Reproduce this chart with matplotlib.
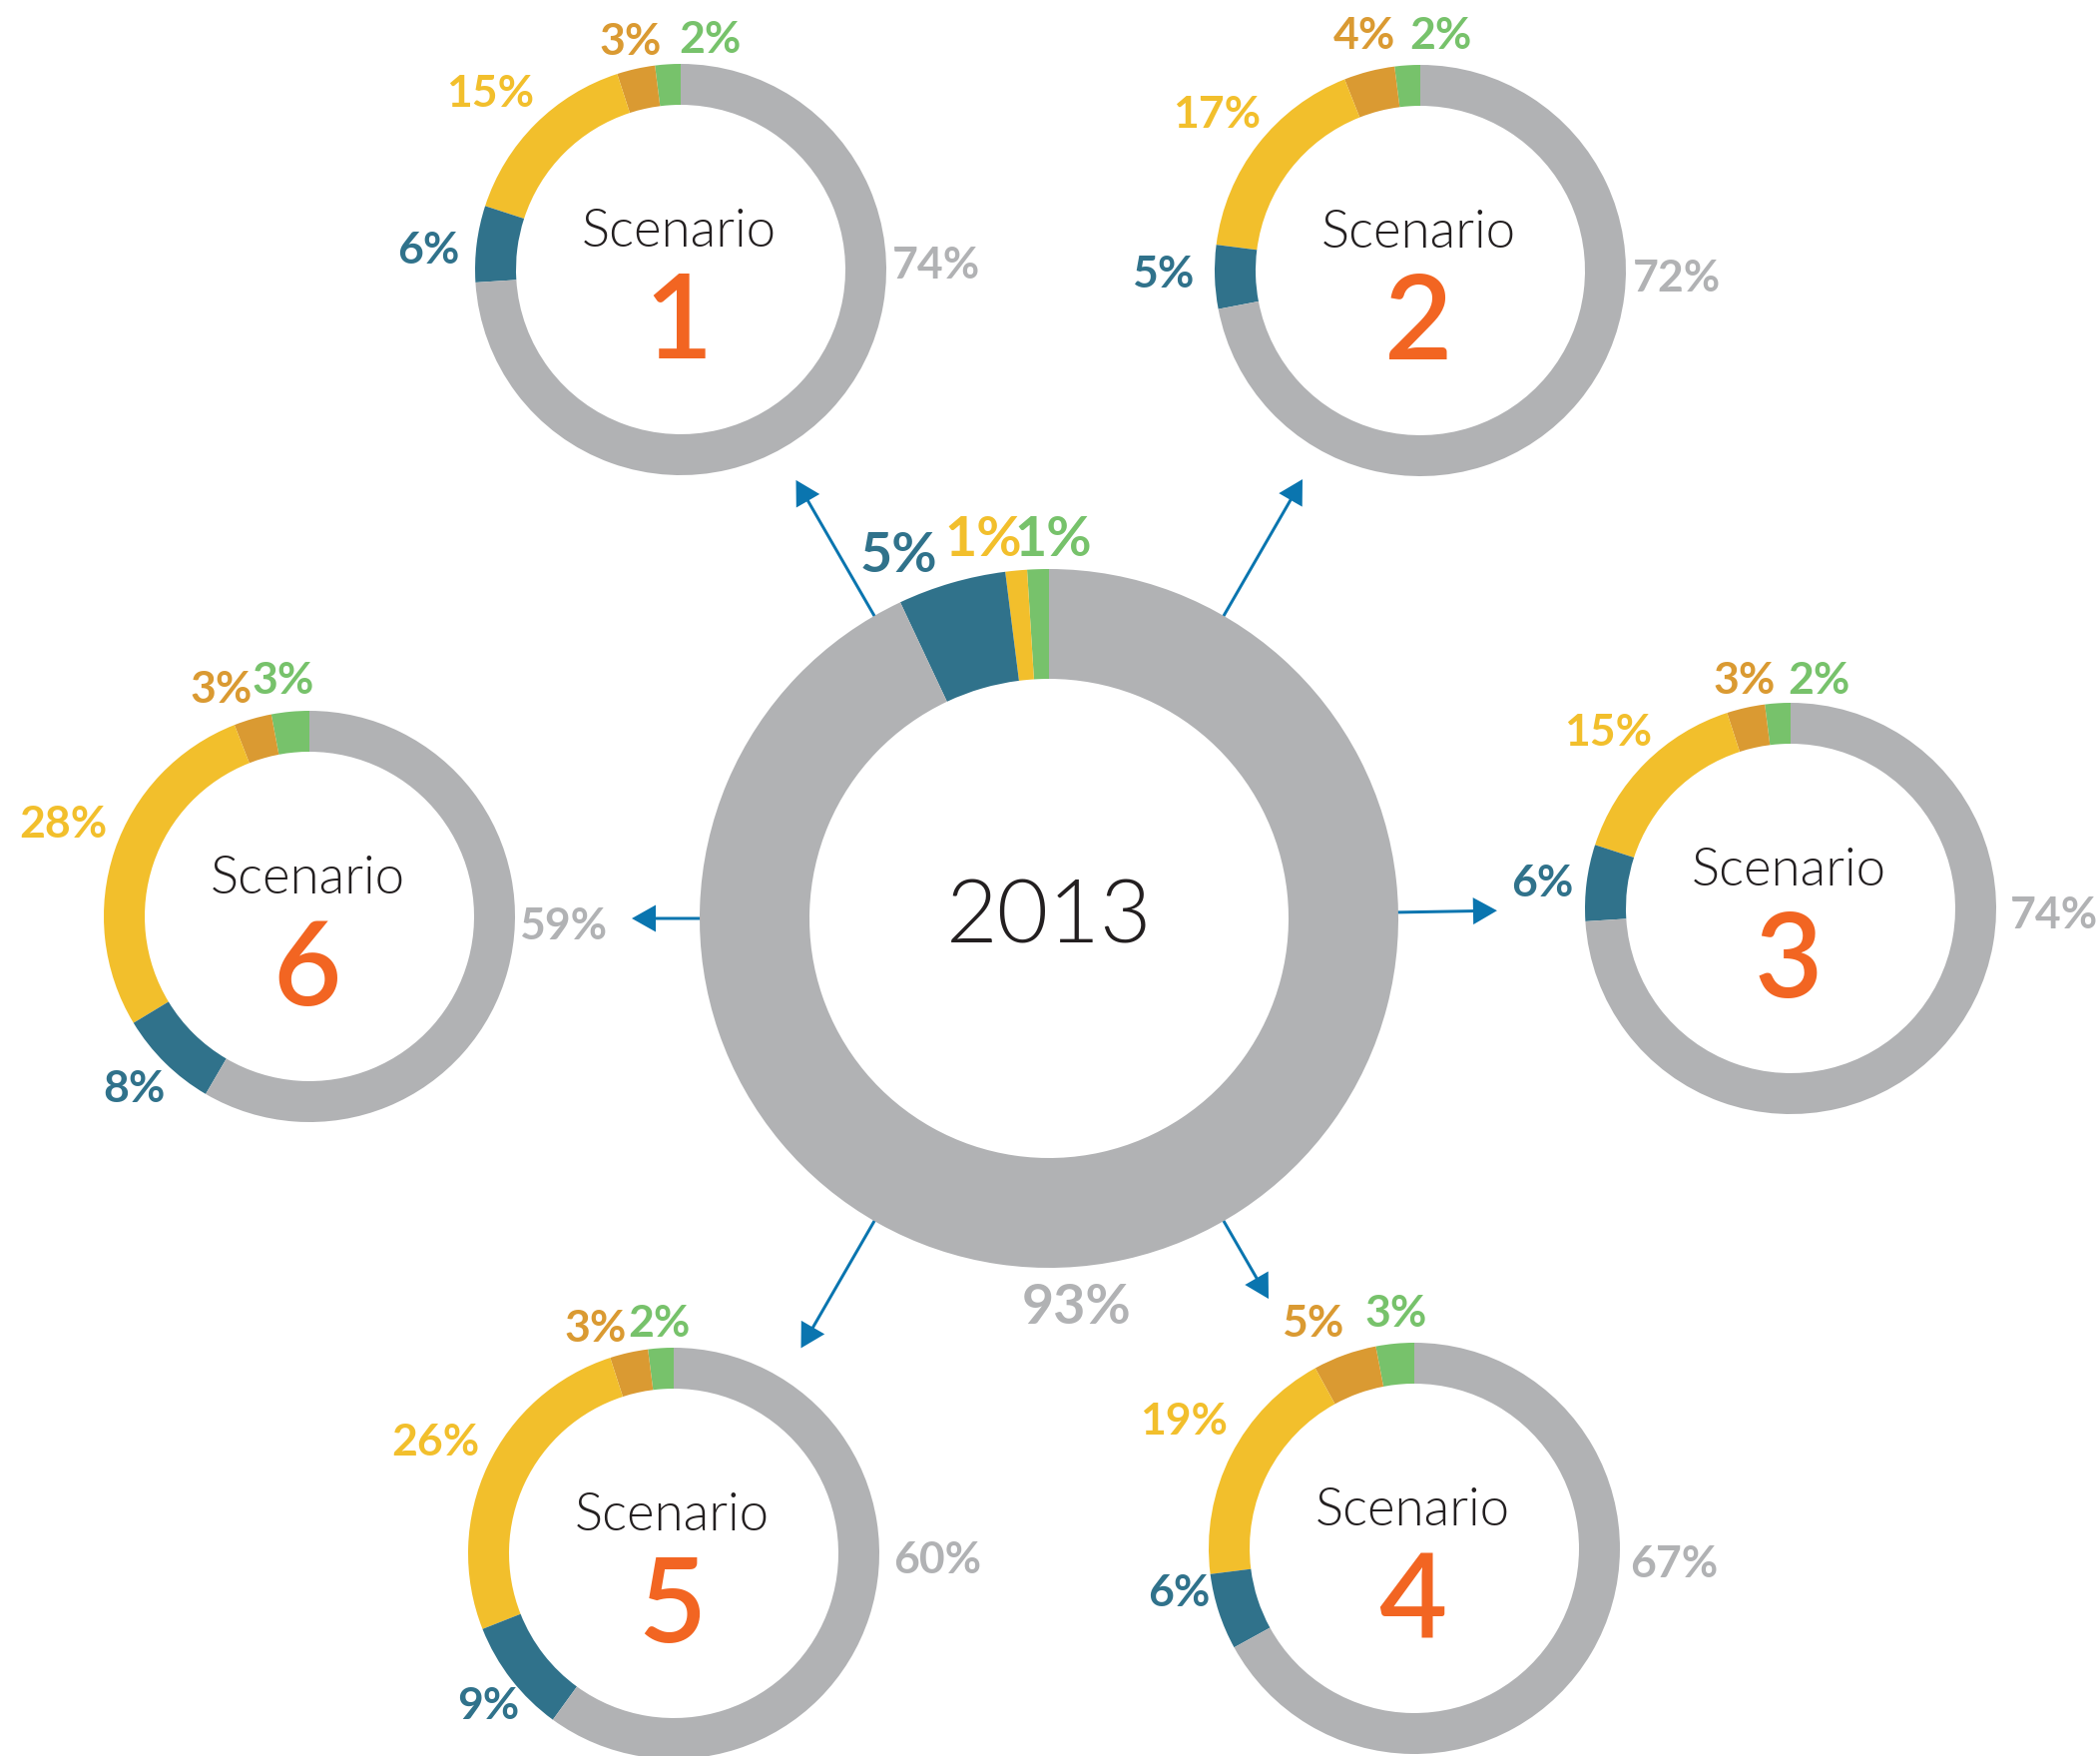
import matplotlib
matplotlib.use("Agg")
from matplotlib import pyplot as plt
import numpy as np

# image size in pixels (dpi 100)
W, H = 2104, 1759

# ring order: the 2013 ring in the middle, then scenarios 1..6
ring_titles = ["2013", "1", "2", "3", "4", "5", "6"]

# shares (%), drawn counter-clockwise from 12 o'clock in this order
green = [1, 2, 2, 2, 3, 2, 3]
orange = [0, 3, 4, 3, 5, 3, 3]
yellow = [1, 15, 17, 15, 19, 26, 28]
blue = [5, 6, 5, 6, 6, 9, 8]
grey = [93, 74, 72, 74, 67, 60, 59]

colors = {
    "green": "#77C26B",
    "orange": "#DA9A32",
    "yellow": "#F2BF2C",
    "blue": "#30728B",
    "grey": "#B1B2B4",
}
num_color = "#F26522"
text_color = "#231F20"
arrow_color = "#0A75AF"

# layout (pixels, y measured from the top)
centers = [(1051, 920), (682, 270), (1423, 271), (1794, 910),
           (1417, 1551), (675, 1556), (310, 918)]
radii = [350, 206, 206, 206, 206, 206, 206]
widths = [110, 41, 41, 41, 41, 41, 41]

# label offsets from ring centre
label_offsets = [
    {"green": (4, -383), "yellow": (-66, -383), "blue": (-151, -367), "grey": (28, 386)},
    {"green": (29, -233), "orange": (-50, -231), "yellow": (-191, -179), "blue": (-253, -22), "grey": (256, -7)},
    {"green": (20, -238), "orange": (-56, -238), "yellow": (-204, -159), "blue": (-258, 1), "grey": (257, 5)},
    {"green": (28, -231), "orange": (-46, -231), "yellow": (-183, -179), "blue": (-249, -28), "grey": (264, 4)},
    {"green": (-18, -238), "orange": (-102, -228), "yellow": (-231, -130), "blue": (-236, 42), "grey": (260, 13)},
    {"green": (-15, -233), "orange": (-78, -228), "yellow": (-239, -114), "blue": (-186, 150), "grey": (264, 4)},
    {"green": (-26, -239), "orange": (-88, -230), "yellow": (-247, -95), "blue": (-176, 170), "grey": (254, 7)},
]

# arrows from the centre ring: direction (deg) and tip distance from centre
arrow_angles = [120, 60, 1, -60, -120, 180]
arrow_tips = [507, 508, 449, 440, 497, 418]

FONT = "Lato"


def px(pt):
    return pt * 100 / 72.0


def put_text(ax, x, y, s, size, color, weight="normal"):
    # y is the visual centre of the digits / capitals
    base = y + 0.358 * px(size)
    ax.text(x, H - base, s, fontsize=size, color=color, fontweight=weight,
            family=FONT, ha="center", va="baseline", zorder=5)


fig = plt.figure(figsize=(W / 100, H / 100), dpi=100)
ax = fig.add_axes([0, 0, 1, 1])

# arrows first, so the ring covers their tails
cx0, cy0 = centers[0]
for ang, tip in zip(arrow_angles, arrow_tips):
    a = np.radians(ang)
    r0 = radii[0] - 10
    x0, y0 = cx0 + r0 * np.cos(a), (H - cy0) + r0 * np.sin(a)
    dx, dy = (tip - r0) * np.cos(a), (tip - r0) * np.sin(a)
    ax.arrow(x0, y0, dx, dy, width=3, head_width=27, head_length=24,
             length_includes_head=True, color=arrow_color, lw=0, zorder=1)

keys = ["green", "orange", "yellow", "blue", "grey"]
for i, title in enumerate(ring_titles):
    vals = [green[i], orange[i], yellow[i], blue[i], grey[i]]
    cx, cy = centers[i]
    ax.pie(vals, colors=[colors[k] for k in keys], radius=radii[i],
           center=(cx, H - cy), startangle=90, counterclock=True,
           wedgeprops=dict(width=widths[i], linewidth=0), frame=True)

    lab_size = 40 if i == 0 else 32
    for k, v in zip(keys, vals):
        if k not in label_offsets[i]:
            continue
        ox, oy = label_offsets[i][k]
        put_text(ax, cx + ox, cy + oy, f"{v}%", lab_size, colors[k], "bold")

    if i == 0:
        put_text(ax, cx, cy - 7, title, 64, text_color, 300)
    else:
        put_text(ax, cx - 2, cy - 42, "Scenario", 38, text_color, 300)
        put_text(ax, cx - 2, cy + 47, title, 85, num_color, "semibold")

ax.set_xlim(0, W)
ax.set_ylim(0, H)
ax.set_aspect("equal")
ax.axis("off")

fig.savefig("out.png", dpi=100, facecolor="white")
